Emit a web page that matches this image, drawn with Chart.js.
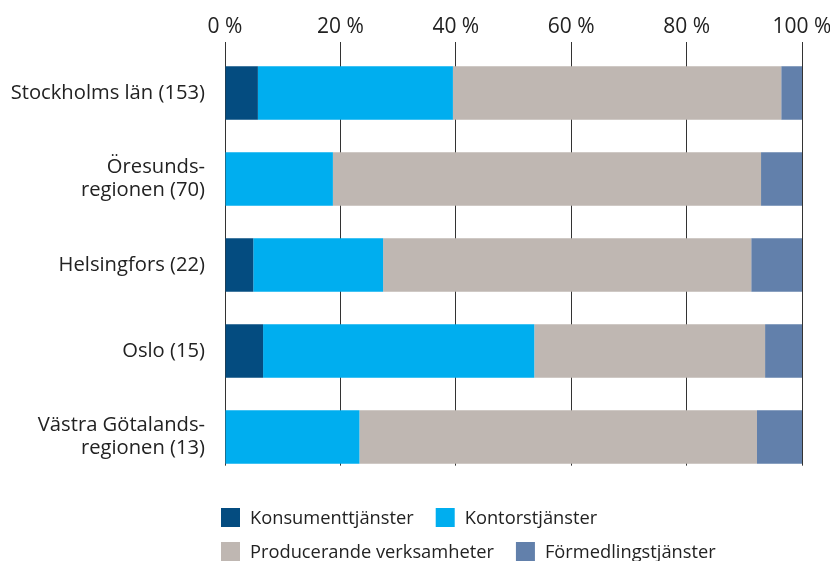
<!DOCTYPE html>
<html><head><meta charset="utf-8">
<script src="https://cdn.jsdelivr.net/npm/chart.js@4"></script>
<style>html,body{margin:0;padding:0;background:#fff}</style>
</head><body>
<canvas id="c" width="830" height="561"></canvas>
<script>
const categories = ['Stockholms län (153)', ['Öresunds-', 'regionen (70)'], 'Helsingfors (22)', 'Oslo (15)', ['Västra Götalands-', 'regionen (13)']];
const seriesNames = ['Konsumenttjänster', 'Kontorstjänster', 'Producerande verksamheter', 'Förmedlingstjänster'];
const konsument = [5.7, 0, 4.9, 6.6, 0];
const kontor = [33.8, 18.7, 22.5, 47.0, 23.3];
const producerande = [56.9, 74.2, 63.8, 40.0, 68.9];
const formedling = [3.6, 7.1, 8.8, 6.4, 7.8];
const xTicks = [0, 20, 40, 60, 80, 100];

const colors = ['#044c80', '#00aeef', '#bfb7b2', '#6280ab'];
const FONT = "'Open Sans', sans-serif";
Chart.defaults.font.family = FONT;
Chart.defaults.color = '#222';

const gridCut = {
  id: 'gridCut',
  beforeDatasetsDraw(chart) {
    const meta = chart.getDatasetMeta(0);
    const last = meta.data[meta.data.length - 1];
    const ca = chart.chartArea;
    const y0 = last.y + last.height / 2 + 2;
    const ctx = chart.ctx;
    ctx.save();
    ctx.fillStyle = '#fff';
    ctx.fillRect(ca.left - 3, y0, ca.right - ca.left + 6, ca.bottom - y0 + 2);
    ctx.restore();
  }
};

const customLegend = {
  id: 'customLegend',
  afterDraw(chart) {
    const ctx = chart.ctx;
    const ca = chart.chartArea;
    const box = 19, gapText = 10, gapItem = 22, rowH = 34;
    const startX = ca.left - 4;
    let x = startX, y = 508;
    ctx.save();
    ctx.font = '18.3px ' + FONT;
    ctx.textBaseline = 'middle';
    ctx.textAlign = 'left';
    chart.data.datasets.forEach((ds, i) => {
      const w = box + gapText + ctx.measureText(ds.label).width;
      if (x !== startX && x + w > ca.right) { x = startX; y += rowH; }
      ctx.fillStyle = ds.backgroundColor;
      ctx.fillRect(x, y, box, box);
      ctx.fillStyle = '#222';
      ctx.fillText(ds.label, x + box + gapText, y + box / 2 + 1);
      x += w + gapItem;
    });
    ctx.restore();
  }
};

const values = [konsument, kontor, producerande, formedling];
new Chart(document.getElementById('c'), {
  type: 'bar',
  data: {
    labels: categories,
    datasets: values.map((v, i) => ({
      label: seriesNames[i], data: v, backgroundColor: colors[i],
      borderWidth: 0, barPercentage: 0.62, categoryPercentage: 1
    }))
  },
  options: {
    indexAxis: 'y',
    responsive: false,
    animation: false,
    layout: { padding: { left: 5, right: 28, top: 0, bottom: 81 } },
    plugins: { legend: { display: false }, tooltip: { enabled: false } },
    scales: {
      x: {
        position: 'top', stacked: true, min: 0, max: 100,
        afterBuildTicks(s) { s.ticks = xTicks.map(v => ({ value: v })); },
        afterFit(s) { s.height = 50; s.paddingRight = 0; s.paddingLeft = 0; },
        border: { display: false },
        grid: { color: '#333', lineWidth: 1, tickLength: 8, drawTicks: true },
        ticks: { font: { size: 21 }, color: '#222', padding: 2, callback: v => v + ' %' }
      },
      y: {
        stacked: true,
        afterFit(s) { s.width = 220; s.paddingTop = 0; s.paddingBottom = 0; },
        border: { display: false },
        grid: { display: false, tickLength: 8 },
        ticks: { font: { size: 20.2, lineHeight: 1.15 }, color: '#222', padding: 12 }
      }
    }
  },
  plugins: [gridCut, customLegend]
});
</script>
</body></html>
